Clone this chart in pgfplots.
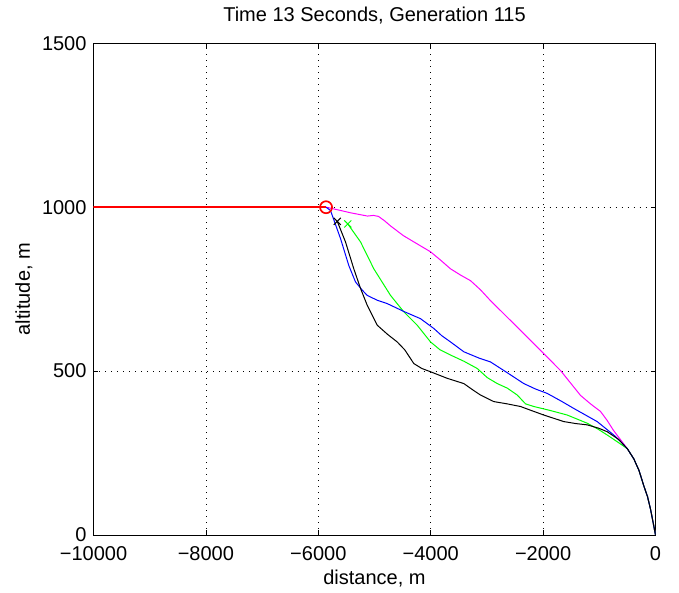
\documentclass[border=0pt]{standalone}
\usepackage{pgfplots}
\pgfplotsset{compat=1.18}
\usepackage{fontspec}
\setmainfont{Liberation Sans}
\definecolor{mmag}{RGB}{255,0,255}
\definecolor{mgreen}{RGB}{0,255,0}
\definecolor{mblue}{RGB}{0,0,255}
\definecolor{mred}{RGB}{255,0,0}
\begin{document}
\fontsize{12}{14}\selectfont
\begin{tikzpicture}
\begin{axis}[
  scale only axis, width=337.2pt, height=295pt,
  xmin=-10000, xmax=0, ymin=0, ymax=1500,
  xtick={-10000,-8000,-6000,-4000,-2000,0},
  xticklabels={−10000,−8000,−6000,−4000,−2000,0},
  ytick={0,500,1000,1500},
  yticklabels={0,500,1000,1500},
  scaled ticks=false,
  tick align=inside, tickpos=both,
  major tick length=3pt,
  tick style={black, line width=0.4pt},
  grid=major,
  major grid style={black, line width=0.4pt, dash pattern=on 0.6pt off 3pt},
  axis line style={black, line width=0.5pt},
  title={Time 13 Seconds, Generation 115},
  title style={at={(axis description cs:0.5,1.057)}, anchor=center, yshift=-6pt, inner sep=0pt, font=\fontsize{12}{14}\selectfont},
  xlabel={distance, m}, ylabel={altitude, m},
  xlabel style={at={(axis description cs:0.5,-0.0876)}, anchor=center, inner sep=0pt},
  ylabel style={at={(axis description cs:-0.1237,0.5)}, anchor=center, inner sep=0pt},
  xticklabel style={yshift=-3pt},
  every tick label/.append style={font=\fontsize{12}{14}\selectfont},
  label style={font=\fontsize{12}{14}\selectfont},
  clip=true,
]
% magenta
\addplot[mmag, line width=0.6pt] coordinates {
(-5862,1000) (-5729,995) (-5426,983) (-5125,973) (-5020,975) (-4929,972) (-4817,958) (-4715,943) (-4484,913) (-4239,888) (-4003,864) (-3834,840) (-3647,812) (-3469,793) (-3292,776) (-3114,748) (-2936,715) (-2465,635) (-1993,554) (-1691,502) (-1335,426) (-1156,400) (-979,377) (-862,350) (-747,319) (-619,290) (-500,263) (-385,232) (-294,197) (-208,150) (-142,117) (-89,79) (-41,37) (0,0)};
% green
\addplot[mgreen, line width=0.6pt] coordinates {
(-5475,949) (-5248,894) (-5012,812) (-4858,770) (-4715,731) (-4479,681) (-4240,640) (-4003,589) (-3834,565) (-3647,549) (-3408,530) (-3172,508) (-2992,480) (-2816,462) (-2637,448) (-2460,427) (-2312,400) (-2165,392) (-1876,380) (-1571,366) (-1215,341) (-1014,322) (-859,305) (-659,282) (-500,263) (-385,232) (-294,197) (-208,150) (-142,117) (-89,79) (-41,37) (0,0)};
\addplot[mgreen, only marks, mark=x, mark size=3pt, line width=0.6pt] coordinates {(-5475,949)};
% blue
\addplot[mblue, line width=0.6pt] coordinates {
(-5862,1000) (-5783,990) (-5604,904) (-5457,822) (-5338,772) (-5223,748) (-5130,731) (-4949,716) (-4774,706) (-4479,682) (-4182,660) (-3944,630) (-3803,608) (-3647,589) (-3411,559) (-3144,540) (-2936,528) (-2637,495) (-2344,462) (-2130,445) (-1927,432) (-1673,408) (-1453,386) (-1038,346) (-742,305) (-609,283) (-500,263) (-385,232) (-294,197) (-208,150) (-142,117) (-89,79) (-41,37) (0,0)};
% black
\addplot[black, line width=0.6pt] coordinates {
(-5663,957) (-5516,894) (-5368,812) (-5248,752) (-5130,701) (-4951,640) (-4767,612) (-4596,589) (-4462,565) (-4300,523) (-4158,508) (-4003,498) (-3706,478) (-3411,462) (-3245,442) (-3114,427) (-2877,407) (-2637,400) (-2402,392) (-2181,378) (-1988,366) (-1632,346) (-1420,340) (-1215,336) (-1014,326) (-859,315) (-659,292) (-500,263) (-385,232) (-294,197) (-208,150) (-142,117) (-89,79) (-41,37) (0,0)};
\addplot[black, only marks, mark=x, mark size=3pt, line width=0.6pt] coordinates {(-5663,957)};
% red
\addplot[mred, line width=1.2pt] coordinates {(-10000,1000) (-5862,1000)};
\addplot[mred, only marks, mark=o, mark size=3.6pt, line width=1pt] coordinates {(-5862,1000)};
\end{axis}
\path (current axis.south west) ++(-56.1pt,-34.8pt) coordinate (bbA);
\path (current axis.north east) ++(14.1pt,26pt) coordinate (bbB);
\useasboundingbox (bbA) rectangle (bbB);
\end{tikzpicture}
\end{document}
